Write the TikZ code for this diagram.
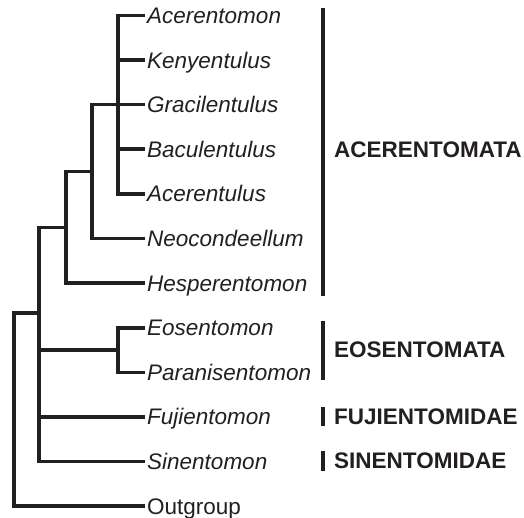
\documentclass[tikz,border=0pt]{standalone}
\usepackage{fontspec}
\setmainfont{Liberation Sans}
\usetikzlibrary{positioning}
\definecolor{ink}{HTML}{231F20}
\tikzset{
  branch/.style={draw=ink, line width=3.6pt, line join=miter},
  leaf/.style={anchor=west, inner xsep=2pt, inner ysep=0pt, text height=16pt, text depth=0pt, text=ink,
    font=\fontsize{22.5}{26}\selectfont\itshape},
  bar/.style={draw=ink, line width=4.5pt},
  clade/.style={anchor=west, inner sep=0pt, text=ink, font=\fontsize{22.5}{26}\selectfont\bfseries},
}
\begin{document}
\begin{tikzpicture}[x=1pt, y=-1pt]
    \useasboundingbox (0,0) rectangle (524,518);
    % taxa
    \foreach \lab [count=\i from 0] in {
        Acerentomon, Kenyentulus, Gracilentulus, Baculentulus,
        Acerentulus, Neocondeellum, Hesperentomon, Eosentomon,
        Paranisentomon, Fujientomon, Sinentomon} {
      \node[leaf] (t\the\numexpr\i+1\relax) at (145,15.5+44.6*\i) {\lab};
    }
    \node[leaf, font=\fontsize{22.5}{26}\selectfont] (out) at (145,506) {Outgroup};
    % internal nodes
    \coordinate (n1) at (118,104.7);
    \coordinate (n2) at (92,171.6);
    \coordinate (n3) at (66,227.4);
    \coordinate (n5) at (118,350);
    \coordinate (n4) at (39,313);
    \coordinate (root) at (14,410);
    % branches
    \draw[branch] (t1.west) -| (n1) |- (t5.west);
    \foreach \i in {2,3,4}
      \draw[branch] (n1 |- t\i.west) -- (t\i.west);
    \draw[branch] (n1) -| (n2) |- (t6.west);
    \draw[branch] (n2) -| (n3) |- (t7.west);
    \draw[branch] (t8.west) -| (n5) |- (t9.west);
    \draw[branch] (n3) -| (n4) |- (t11.west);
    \draw[branch] (n4 |- n5) -- (n5);
    \draw[branch] (n4 |- t10.west) -- (t10.west);
    \draw[branch] (n4) -| (root) |- (out.west);
    % clades
    \draw[bar] (323,8) -- (323,296);
    \node[clade] (acer) at (334,150) {ACERENTOMATA};
    \draw[bar] (323,321) -- (323,380);
    \node[clade] (eos) at (334,350) {EOSENTOMATA};
    \draw[bar] (323,407) -- (323,426);
    \node[clade] (fuji) at (334,417) {FUJIENTOMIDAE};
    \draw[bar] (323,451) -- (323,471);
    \node[clade] (sin) at (334,461) {SINENTOMIDAE};
  \end{tikzpicture}
\end{document}
